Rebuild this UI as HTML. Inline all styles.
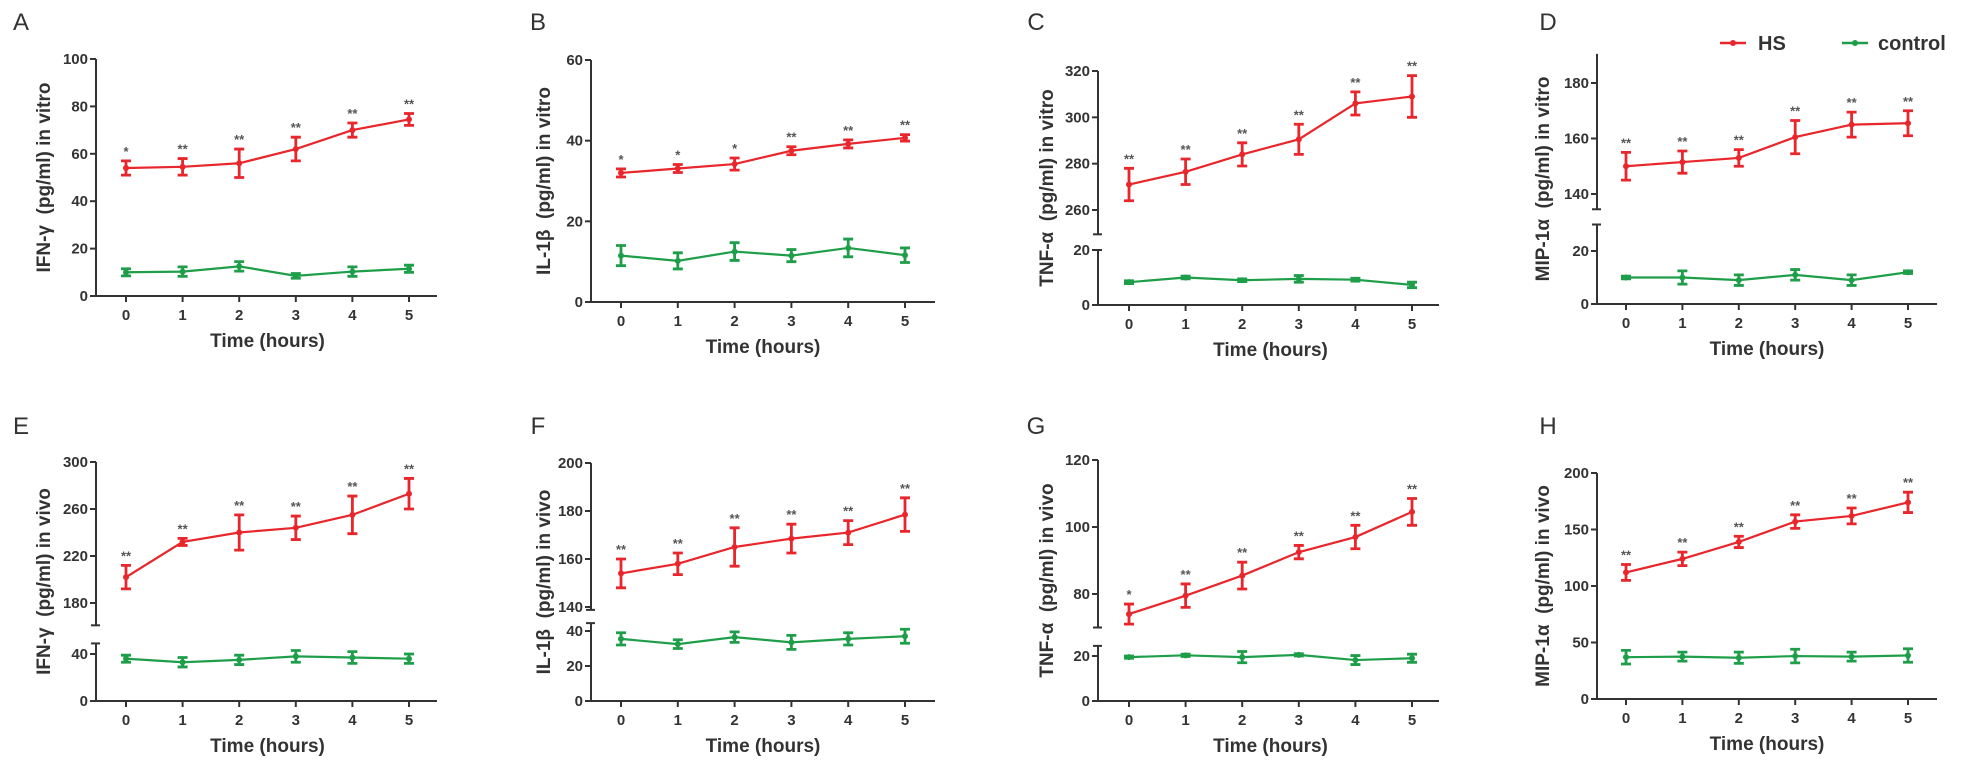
<!DOCTYPE html>
<html><head><meta charset="utf-8"><style>
html,body{margin:0;padding:0;background:#fff}
svg{display:block}
text{font-family:"Liberation Sans",Arial,sans-serif}
.pre{white-space:pre}
</style></head><body>
<svg id="fig" width="1962" height="767" viewBox="0 0 1962 767" xmlns="http://www.w3.org/2000/svg">
<g>
<line x1="1720" y1="43" x2="1746" y2="43" stroke="#e8262b" stroke-width="2.5"/><circle cx="1733" cy="43" r="3" fill="#e8262b"/>
<text x="1758" y="50" font-size="20" font-weight="bold" fill="#333">HS</text>
<line x1="1842" y1="43" x2="1868" y2="43" stroke="#1f9e4a" stroke-width="2.5"/><circle cx="1855" cy="43" r="3" fill="#1f9e4a"/>
<text x="1878" y="50" font-size="20" font-weight="bold" fill="#333">control</text>
</g>
</svg>
<script>
const hours = [0,1,2,3,4,5];
const hsA=[54,54.5,56,62,70,74.5], hsAErr=[3,3.5,6,5,3,2.5], ctA=[10,10.3,12.5,8.5,10.3,11.5], ctAErr=[1.5,2,2,1,2,1.5], starsA=['*','**','**','**','**','**'];
const hsB=[32,33.1,34.2,37.5,39.2,40.7], hsBErr=[1,1,1.5,1,1,0.8], ctB=[11.5,10.2,12.5,11.5,13.4,11.6], ctBErr=[2.5,2,2.2,1.5,2.2,1.8], starsB=['*','*','*','**','**','**'];
const hsC=[271,276.5,284,290.5,306,309], hsCErr=[7,5.5,5,6.5,5,9], ctC=[8.3,10,9,9.5,9.2,7.3], ctCErr=[0.5,0.5,0.5,1.2,0.5,1], starsC=['**','**','**','**','**','**'];
const hsD=[150,151.5,153,160.5,165,165.5], hsDErr=[5,4,3,6,4.5,4.5], ctD=[10,10,9,11,9,12], ctDErr=[0.5,2.5,2,2,2,0.5], starsD=['**','**','**','**','**','**'];
const hsE=[202,232,240,244,255,273], hsEErr=[10,3,15,10,16,13], ctE=[36,33,35,38,37,36], ctEErr=[3,4,4,5,5,4], starsE=['**','**','**','**','**','**'];
const hsF=[154,158,165,168.5,171,178.5], hsFErr=[6,4.5,8,6,5,7], ctF=[35.5,32.5,36.5,33.5,35.5,37], ctFErr=[3.5,2.5,3,4,3.5,4], starsF=['**','**','**','**','**','**'];
const hsG=[74,79.5,85.5,92.5,97,104.5], hsGErr=[3,3.5,4,2,3.5,4], ctG=[19.5,20.3,19.5,20.5,18.2,19], ctGErr=[0.5,0.5,2.5,0.5,2,1.8], starsG=['*','**','**','**','**','**'];
const hsH=[112,124,139,157,162,174], hsHErr=[7,6,5,6,7,9], ctH=[37,37.5,36.5,38,37.5,38.5], ctHErr=[6,4,5,6,4,6], starsH=['**','**','**','**','**','**'];
const ticksA=[0,20,40,60,80,100], ticksB=[0,20,40,60];
const ticksCU=[260,280,300,320], ticksCL=[0,20], ticksDU=[140,160,180], ticksDL=[0,20];
const ticksEU=[180,220,260,300], ticksEL=[0,40], ticksFU=[140,160,180,200], ticksFL=[0,20,40];
const ticksGU=[80,100,120], ticksGL=[0,20], ticksH=[0,50,100,150,200];

const NS='http://www.w3.org/2000/svg', svg=document.getElementById('fig');
const RED='#e8262b', GREEN='#1f9e4a', AX='#333';
function mk(tag,attrs,parent,txt){const e=document.createElementNS(NS,tag);for(const k in attrs)e.setAttribute(k,attrs[k]);if(txt!==undefined)e.textContent=txt;(parent||svg).appendChild(e);return e;}
function lin(v0,p0,v1,p1){return v=>p0+(v-v0)*(p1-p0)/(v1-v0);}

function panel(c){
  const g=mk('g',{});
  
  
  const lt=mk('text',{x:c.lx,y:c.ly+8,'font-size':24,fill:'#333','text-anchor':'middle'},g,c.id);
  
  
  const xs=lin(0,c.x0,5,c.x5);
  let segs=c.segs.map(s=>Object.assign({},s,{y:lin(s.v0,s.p0,s.v1,s.p1)}));
  const lower=segs[segs.length-1], upper=segs[0];
  const baseY=lower.y(0);
  segs.forEach((s,i)=>{
    const yt=s.y(s.emax), yb=s.y(s.emin);
    const ax=mk('line',{x1:c.ax,y1:yt,x2:c.ax,y2:yb,stroke:AX,'stroke-width':2},g);
    
    
    if(segs.length>1){
      if(i===0) mk('line',{x1:c.ax-5,y1:yb,x2:c.ax+4,y2:yb,stroke:AX,'stroke-width':2},g);
      else mk('line',{x1:c.ax-5,y1:yt,x2:c.ax+4,y2:yt,stroke:AX,'stroke-width':2},g);
    }
    s.ticks.forEach(t=>{
      const yy=s.y(t);
      mk('line',{x1:c.ax-6,y1:yy,x2:c.ax,y2:yy,stroke:AX,'stroke-width':2},g);
      const tl=mk('text',{x:c.ax-8,y:yy+5,'font-size':15,'font-weight':'bold',fill:AX,'text-anchor':'end'},g,String(t));
      
      
    });
  });
  const xa=mk('line',{x1:c.ax-1,y1:baseY,x2:c.xend,y2:baseY,stroke:AX,'stroke-width':2},g);
  
  
  hours.forEach(h=>{
    mk('line',{x1:xs(h),y1:baseY,x2:xs(h),y2:baseY+6,stroke:AX,'stroke-width':2},g);
    const tl=mk('text',{x:xs(h),y:baseY+24,'font-size':15,'font-weight':'bold',fill:AX,'text-anchor':'middle'},g,String(h));
    
    
  });
  const xt=mk('text',{x:(c.x0+c.x5)/2,y:baseY+51,'font-size':19,'font-weight':'bold',fill:AX,'text-anchor':'middle'},g,'Time (hours)');
  
  
  const ymid=(upper.y(upper.emax)+baseY)/2;
  const yt=mk('text',{x:0,y:0,'font-size':19,'font-weight':'bold',fill:AX,'text-anchor':'middle','class':'pre',transform:`translate(${c.tx+6},${ymid}) rotate(-90)`},g,c.title);
  
  
  function series(vals,errs,seg,col,name,stars){
    const sg=mk('g',{},g);
    
    
    const pts=vals.map((v,i)=>xs(hours[i])+','+seg.y(v)).join(' ');
    mk('polyline',{points:pts,fill:'none',stroke:col,'stroke-width':2.2},sg);
    vals.forEach((v,i)=>{
      const x=xs(hours[i]), y1=seg.y(v+errs[i]), y2=seg.y(v-errs[i]);
      const eb=mk('path',{d:`M${x},${y1}V${y2}M${x-5},${y1}H${x+5}M${x-5},${y2}H${x+5}`,stroke:col,'stroke-width':2.8,fill:'none'},sg);
      
      
      const p=mk('circle',{cx:x,cy:seg.y(v),r:3,fill:col},sg);
      
      
      if(stars){
        const st=mk('text',{x:x,y:y1-5,'font-size':13,'font-weight':'bold',fill:'#555','text-anchor':'middle'},sg,stars[i]);
        
        
      }
    });
  }
  series(c.ct,c.ctErr,lower,GREEN,'control-series');
  series(c.hs,c.hsErr,upper,RED,'hs-series',c.stars);
}
const L={ax:96,x0:126,x5:409,xend:437,tx:44,lx:21}, B={ax:591,x0:621,x5:905,xend:935,tx:544,lx:538},
      C={ax:1098,x0:1129,x5:1412,xend:1439,tx:1047,lx:1036}, D={ax:1597,x0:1626,x5:1908,xend:1937,tx:1543,lx:1548};
panel(Object.assign({id:'A',ly:22,title:'IFN-γ  (pg/ml) in vitro',hs:hsA,hsErr:hsAErr,ct:ctA,ctErr:ctAErr,stars:starsA,
 segs:[{v0:0,p0:296,v1:100,p1:59,emin:0,emax:100,ticks:ticksA}]},L));
panel(Object.assign({id:'B',ly:22,title:'IL-1β  (pg/ml) in vitro',hs:hsB,hsErr:hsBErr,ct:ctB,ctErr:ctBErr,stars:starsB,
 segs:[{v0:0,p0:302,v1:60,p1:60,emin:0,emax:60,ticks:ticksB}]},B));
panel(Object.assign({id:'C',ly:22,title:'TNF-α  (pg/ml) in vitro',hs:hsC,hsErr:hsCErr,ct:ctC,ctErr:ctCErr,stars:starsC,
 segs:[{v0:260,p0:210,v1:320,p1:71,emin:249.5,emax:320,ticks:ticksCU},{v0:0,p0:305,v1:20,p1:250,emin:0,emax:20,ticks:ticksCL}]},C));
panel(Object.assign({id:'D',ly:22,title:'MIP-1α  (pg/ml) in vitro',hs:hsD,hsErr:hsDErr,ct:ctD,ctErr:ctDErr,stars:starsD,
 segs:[{v0:140,p0:194,v1:180,p1:83,emin:134.5,emax:190.5,ticks:ticksDU},{v0:0,p0:304,v1:20,p1:251,emin:0,emax:30,ticks:ticksDL}]},D));
panel(Object.assign({id:'E',ly:426,title:'IFN-γ  (pg/ml) in vivo',hs:hsE,hsErr:hsEErr,ct:ctE,ctErr:ctEErr,stars:starsE,
 segs:[{v0:180,p0:603,v1:300,p1:462,emin:161,emax:300,ticks:ticksEU},{v0:0,p0:701,v1:40,p1:654,emin:0,emax:49,ticks:ticksEL}]},L));
panel(Object.assign({id:'F',ly:426,title:'IL-1β  (pg/ml) in vivo',hs:hsF,hsErr:hsFErr,ct:ctF,ctErr:ctFErr,stars:starsF,
 segs:[{v0:140,p0:607,v1:200,p1:463,emin:138.8,emax:200,ticks:ticksFU},{v0:0,p0:701,v1:40,p1:631,emin:0,emax:44.5,ticks:ticksFL}]},B));
panel(Object.assign({id:'G',ly:426,title:'TNF-α  (pg/ml) in vivo',hs:hsG,hsErr:hsGErr,ct:ctG,ctErr:ctGErr,stars:starsG,
 segs:[{v0:80,p0:594,v1:120,p1:460,emin:70,emax:120,ticks:ticksGU},{v0:0,p0:701,v1:20,p1:656,emin:0,emax:24.5,ticks:ticksGL}]},C));
panel(Object.assign({id:'H',ly:426,title:'MIP-1α  (pg/ml) in vivo',hs:hsH,hsErr:hsHErr,ct:ctH,ctErr:ctHErr,stars:starsH,
 segs:[{v0:0,p0:699,v1:200,p1:473,emin:0,emax:200,ticks:ticksH}]},D));
</script>
</body></html>
